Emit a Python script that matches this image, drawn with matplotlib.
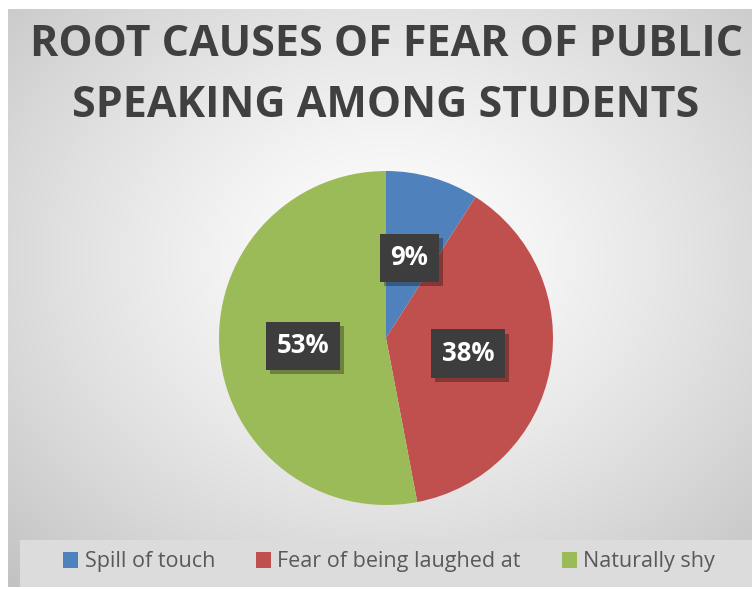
import numpy as np
import matplotlib
matplotlib.use("Agg")
from matplotlib import pyplot as plt
from matplotlib.patches import Rectangle, Patch
import matplotlib.patheffects as pe

plt.rcParams['font.family'] = ['Open Sans', 'DejaVu Sans']

# data
categories = ["Spill of touch", "Fear of being laughed at", "Naturally shy"]
shares = [9, 38, 53]
colors = ["#4f81bd", "#c0504d", "#9bbb59"]
title = "ROOT CAUSES OF FEAR OF PUBLIC\nSPEAKING AMONG STUDENTS"

W, H = 752, 589
fig = plt.figure(figsize=(W / 100, H / 100), dpi=100)
fig.patch.set_facecolor("white")

# chart area with radial grey gradient
bg = fig.add_axes([8 / W, 2 / H, 744 / W, 578 / H])
bg.set_axis_off()
yy, xx = np.mgrid[0:578, 0:744]
d = np.sqrt(((xx - 380) / 520.0) ** 2 + ((yy - 250) / 420.0) ** 2)
shade = 1.0 - 0.22 * np.clip(d, 0, 1.2) ** 1.3
img = np.dstack([shade, shade, shade])
bg.imshow(img, extent=[0, 744, 578, 0], aspect="auto", interpolation="bilinear")
bg.set_xlim(0, 744)
bg.set_ylim(578, 0)
# legend strip
bg.add_patch(Rectangle((12, 531), 740, 47, facecolor="#dcdcdc", edgecolor="none"))

fig.text(386 / W, 1 - 75 / H, title, ha="center", va="center", fontsize=31,
         fontweight="bold", color="#404040", linespacing=1.55)

# pie
r = 167
ax = fig.add_axes([(386 - r) / W, (H - 338 - r) / H, 2 * r / W, 2 * r / H])
wedges, texts, autotexts = ax.pie(shares, colors=colors, startangle=90, counterclock=False,
                                  autopct=lambda p: "%d%%" % round(p), pctdistance=0.5,
                                  wedgeprops=dict(linewidth=0))
ax.set_xlim(-1, 1)
ax.set_ylim(-1, 1)
for t in autotexts:
    t.set_color("white")
    t.set_fontsize(18.5)
    t.set_fontweight("bold")
    t.set_bbox(dict(boxstyle="square,pad=0.42", facecolor="#3d3d3d", edgecolor="none"))
    t.get_bbox_patch().set_path_effects([
        pe.SimplePatchShadow(offset=(3, -3), shadow_rgbFace="black", alpha=0.3),
        pe.Normal()])

handles = [Patch(facecolor=c, edgecolor="none") for c in colors]
fig.legend(handles, categories, loc="center", bbox_to_anchor=(389 / W, 1 - 562 / H),
           ncol=3, frameon=False, fontsize=15.5, handlelength=0.7, handleheight=0.7,
           handletextpad=0.3, columnspacing=1.9, labelcolor="#595959")

fig.savefig("out.png", dpi=100)
